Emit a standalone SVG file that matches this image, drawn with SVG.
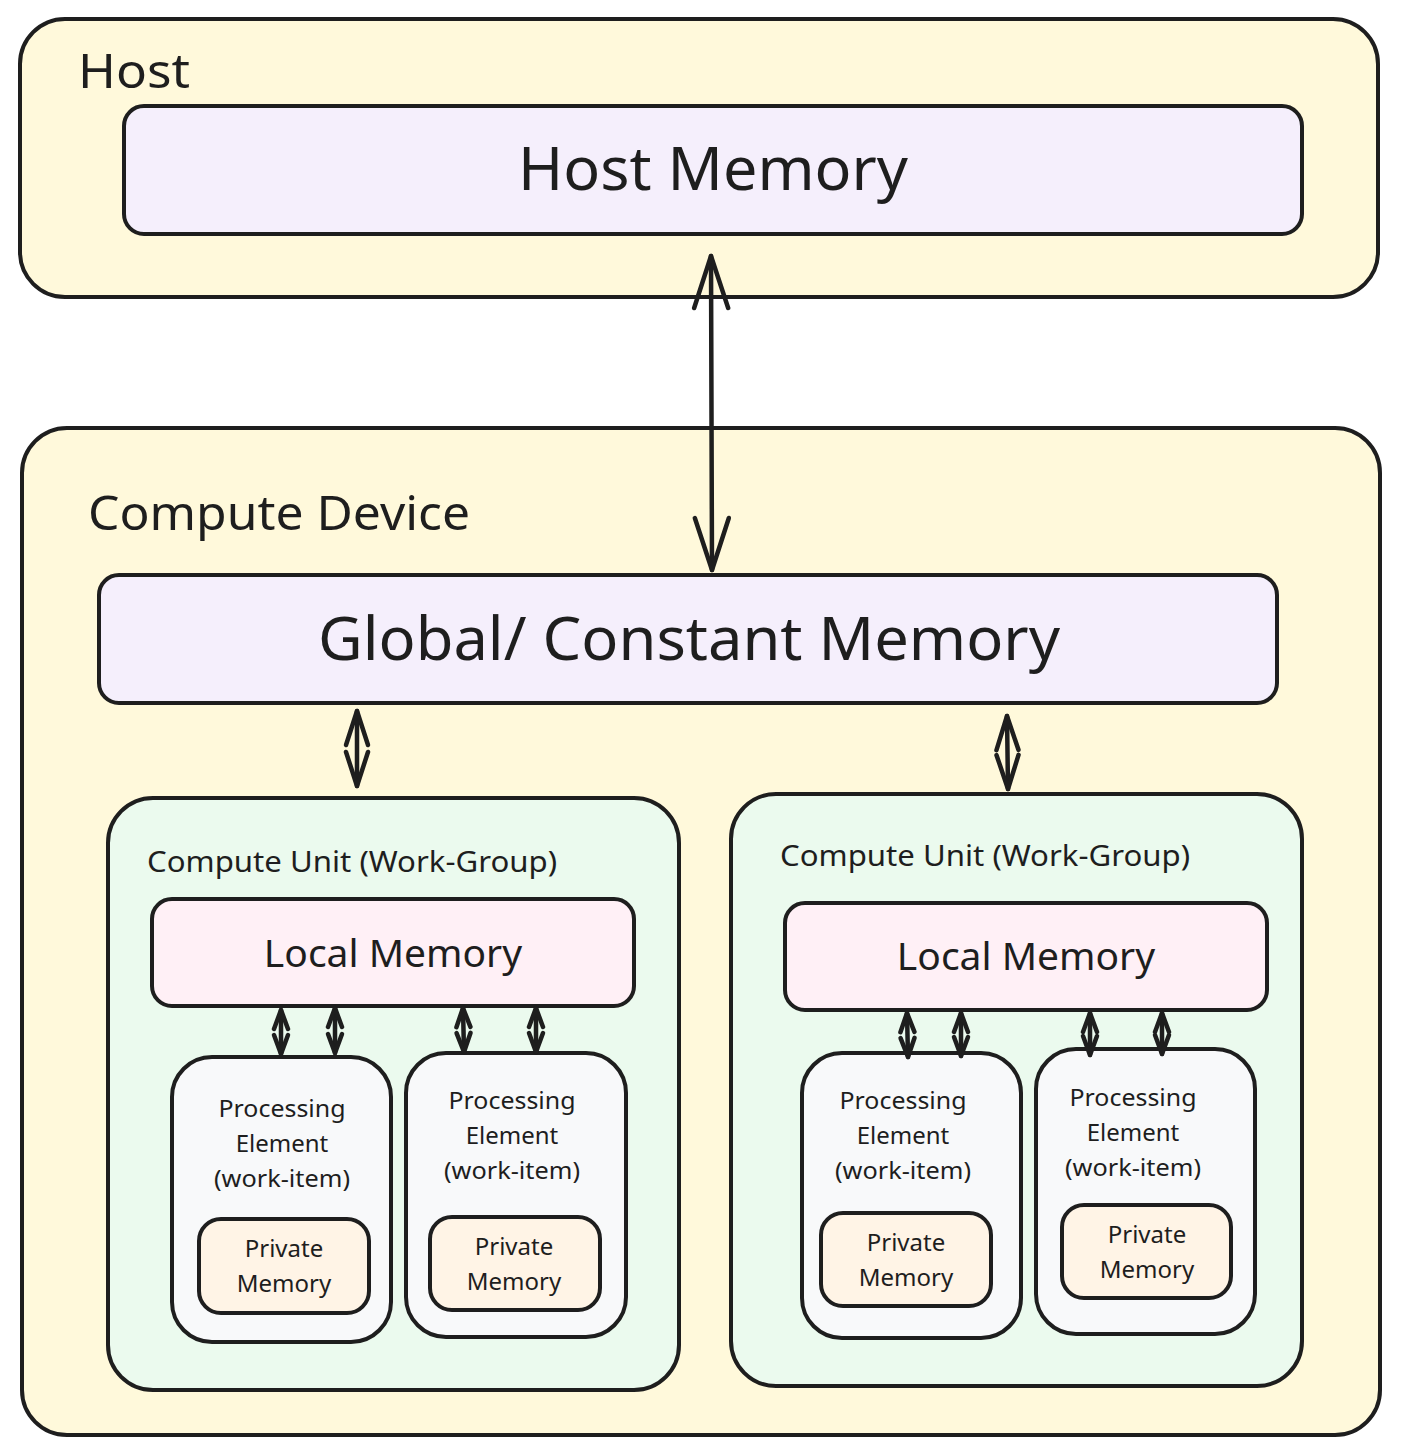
<svg xmlns="http://www.w3.org/2000/svg" width="1401" height="1454" viewBox="0 0 1401 1454">
<style>
.box{stroke:#1e1e1e;stroke-width:4;stroke-linejoin:round}
.yel{fill:#fff9db}.pur{fill:#f5effc}.grn{fill:#ebfaee}.pnk{fill:#fff0f6}.gry{fill:#f8f9fa}.org{fill:#fff4e6}
text{font-family:"Noto Sans","Open Sans","DejaVu Sans",sans-serif;fill:#1e1e1e}
.c{text-anchor:middle}
.arr{stroke:#1e1e1e;fill:none;stroke-linecap:round;stroke-linejoin:round}
</style>
<defs>
<marker id="hL" markerUnits="userSpaceOnUse" viewBox="-56 -22 62 44" markerWidth="62" markerHeight="44" refX="0" refY="0" orient="auto-start-reverse">
<path d="M-52,-17 L0,0 L-52,17" fill="none" stroke="#1e1e1e" stroke-width="4.5" stroke-linecap="round" stroke-linejoin="round"/>
</marker>
<marker id="hM" markerUnits="userSpaceOnUse" viewBox="-40 -16 46 32" markerWidth="46" markerHeight="32" refX="0" refY="0" orient="auto-start-reverse">
<path d="M-34,-11 L0,0 L-34,11" fill="none" stroke="#1e1e1e" stroke-width="4.5" stroke-linecap="round" stroke-linejoin="round"/>
</marker>
<marker id="hS" markerUnits="userSpaceOnUse" viewBox="-24 -12 30 24" markerWidth="30" markerHeight="24" refX="0" refY="0" orient="auto-start-reverse">
<path d="M-19,-7 L0,0 L-19,7" fill="none" stroke="#1e1e1e" stroke-width="4.5" stroke-linecap="round" stroke-linejoin="round"/>
</marker>
</defs>

<g id="host">
<rect class="box yel" x="20" y="19" width="1358" height="278" rx="45"/>
<text x="78" y="88" font-size="48" textLength="112" lengthAdjust="spacingAndGlyphs">Host</text>
</g>
<g id="host-memory">
<rect class="box pur" x="124" y="106" width="1178" height="128" rx="20"/>
<text class="c" x="713" y="190" font-size="60" textLength="390" lengthAdjust="spacingAndGlyphs">Host Memory</text>
</g>

<g id="compute-device">
<rect class="box yel" x="22" y="428" width="1358" height="1007" rx="45"/>
<text x="88" y="530" font-size="47" textLength="382" lengthAdjust="spacingAndGlyphs">Compute Device</text>
</g>
<g id="global-memory">
<rect class="box pur" x="99" y="575" width="1178" height="128" rx="20"/>
<text class="c" x="689" y="660" font-size="60" textLength="742" lengthAdjust="spacingAndGlyphs">Global/ Constant Memory</text>
</g>

<g id="cu-left">
<rect class="box grn" x="108" y="798" width="571" height="592" rx="45"/>
<text x="147" y="872" font-size="29" textLength="410" lengthAdjust="spacingAndGlyphs">Compute Unit (Work-Group)</text>
</g>
<g id="lm-left">
<rect class="box pnk" x="152" y="899" width="482" height="107" rx="20"/>
<text class="c" x="393" y="967" font-size="39">Local Memory</text>
</g>
<g id="pe-l1">
<rect class="box gry" x="172" y="1057" width="219" height="285" rx="40"/>
<text class="c" x="282" y="1117" font-size="24" textLength="127" lengthAdjust="spacingAndGlyphs">Processing</text>
<text class="c" x="282" y="1152" font-size="24">Element</text>
<text class="c" x="282" y="1187" font-size="24" textLength="136" lengthAdjust="spacingAndGlyphs">(work-item)</text>
</g>
<g id="pm-l1">
<rect class="box org" x="199" y="1219" width="170" height="94" rx="22"/>
<text class="c" x="284" y="1257" font-size="24">Private</text>
<text class="c" x="284" y="1292" font-size="24">Memory</text>
</g>
<g id="pe-l2">
<rect class="box gry" x="406" y="1053" width="220" height="284" rx="40"/>
<text class="c" x="512" y="1109" font-size="24" textLength="127" lengthAdjust="spacingAndGlyphs">Processing</text>
<text class="c" x="512" y="1144" font-size="24">Element</text>
<text class="c" x="512" y="1179" font-size="24" textLength="136" lengthAdjust="spacingAndGlyphs">(work-item)</text>
</g>
<g id="pm-l2">
<rect class="box org" x="430" y="1217" width="170" height="93" rx="22"/>
<text class="c" x="514" y="1255" font-size="24">Private</text>
<text class="c" x="514" y="1290" font-size="24">Memory</text>
</g>

<g id="cu-right">
<rect class="box grn" x="731" y="794" width="571" height="592" rx="45"/>
<text x="780" y="866" font-size="29" textLength="410" lengthAdjust="spacingAndGlyphs">Compute Unit (Work-Group)</text>
</g>
<g id="lm-right">
<rect class="box pnk" x="785" y="903" width="482" height="107" rx="20"/>
<text class="c" x="1026" y="970" font-size="39">Local Memory</text>
</g>
<g id="pe-r1">
<rect class="box gry" x="802" y="1053" width="219" height="285" rx="40"/>
<text class="c" x="903" y="1109" font-size="24" textLength="127" lengthAdjust="spacingAndGlyphs">Processing</text>
<text class="c" x="903" y="1144" font-size="24">Element</text>
<text class="c" x="903" y="1179" font-size="24" textLength="136" lengthAdjust="spacingAndGlyphs">(work-item)</text>
</g>
<g id="pm-r1">
<rect class="box org" x="821" y="1213" width="170" height="93" rx="22"/>
<text class="c" x="906" y="1251" font-size="24">Private</text>
<text class="c" x="906" y="1286" font-size="24">Memory</text>
</g>
<g id="pe-r2">
<rect class="box gry" x="1036" y="1049" width="219" height="285" rx="40"/>
<text class="c" x="1133" y="1106" font-size="24" textLength="127" lengthAdjust="spacingAndGlyphs">Processing</text>
<text class="c" x="1133" y="1141" font-size="24">Element</text>
<text class="c" x="1133" y="1176" font-size="24" textLength="136" lengthAdjust="spacingAndGlyphs">(work-item)</text>
</g>
<g id="pm-r2">
<rect class="box org" x="1062" y="1205" width="169" height="93" rx="22"/>
<text class="c" x="1147" y="1243" font-size="24">Private</text>
<text class="c" x="1147" y="1278" font-size="24">Memory</text>
</g>

<g id="connectors">
<path class="arr" stroke-width="4.5" d="M711,256 L712,570" marker-start="url(#hL)" marker-end="url(#hL)"/>
<path class="arr" stroke-width="4.5" d="M357,711 L357,786" marker-start="url(#hM)" marker-end="url(#hM)"/>
<path class="arr" stroke-width="4.5" d="M1007,716 L1008,789" marker-start="url(#hM)" marker-end="url(#hM)"/>
<path class="arr" stroke-width="4.5" d="M281,1010 L281,1054" marker-start="url(#hS)" marker-end="url(#hS)"/>
<path class="arr" stroke-width="4.5" d="M335,1008 L335,1053" marker-start="url(#hS)" marker-end="url(#hS)"/>
<path class="arr" stroke-width="4.5" d="M463,1008 L464,1052" marker-start="url(#hS)" marker-end="url(#hS)"/>
<path class="arr" stroke-width="4.5" d="M536,1008 L536,1052" marker-start="url(#hS)" marker-end="url(#hS)"/>
<path class="arr" stroke-width="4.5" d="M907,1013 L908,1057" marker-start="url(#hS)" marker-end="url(#hS)"/>
<path class="arr" stroke-width="4.5" d="M961,1013 L961,1056" marker-start="url(#hS)" marker-end="url(#hS)"/>
<path class="arr" stroke-width="4.5" d="M1090,1013 L1090,1055" marker-start="url(#hS)" marker-end="url(#hS)"/>
<path class="arr" stroke-width="4.5" d="M1162,1013 L1162,1054" marker-start="url(#hS)" marker-end="url(#hS)"/>
</g>
</svg>
